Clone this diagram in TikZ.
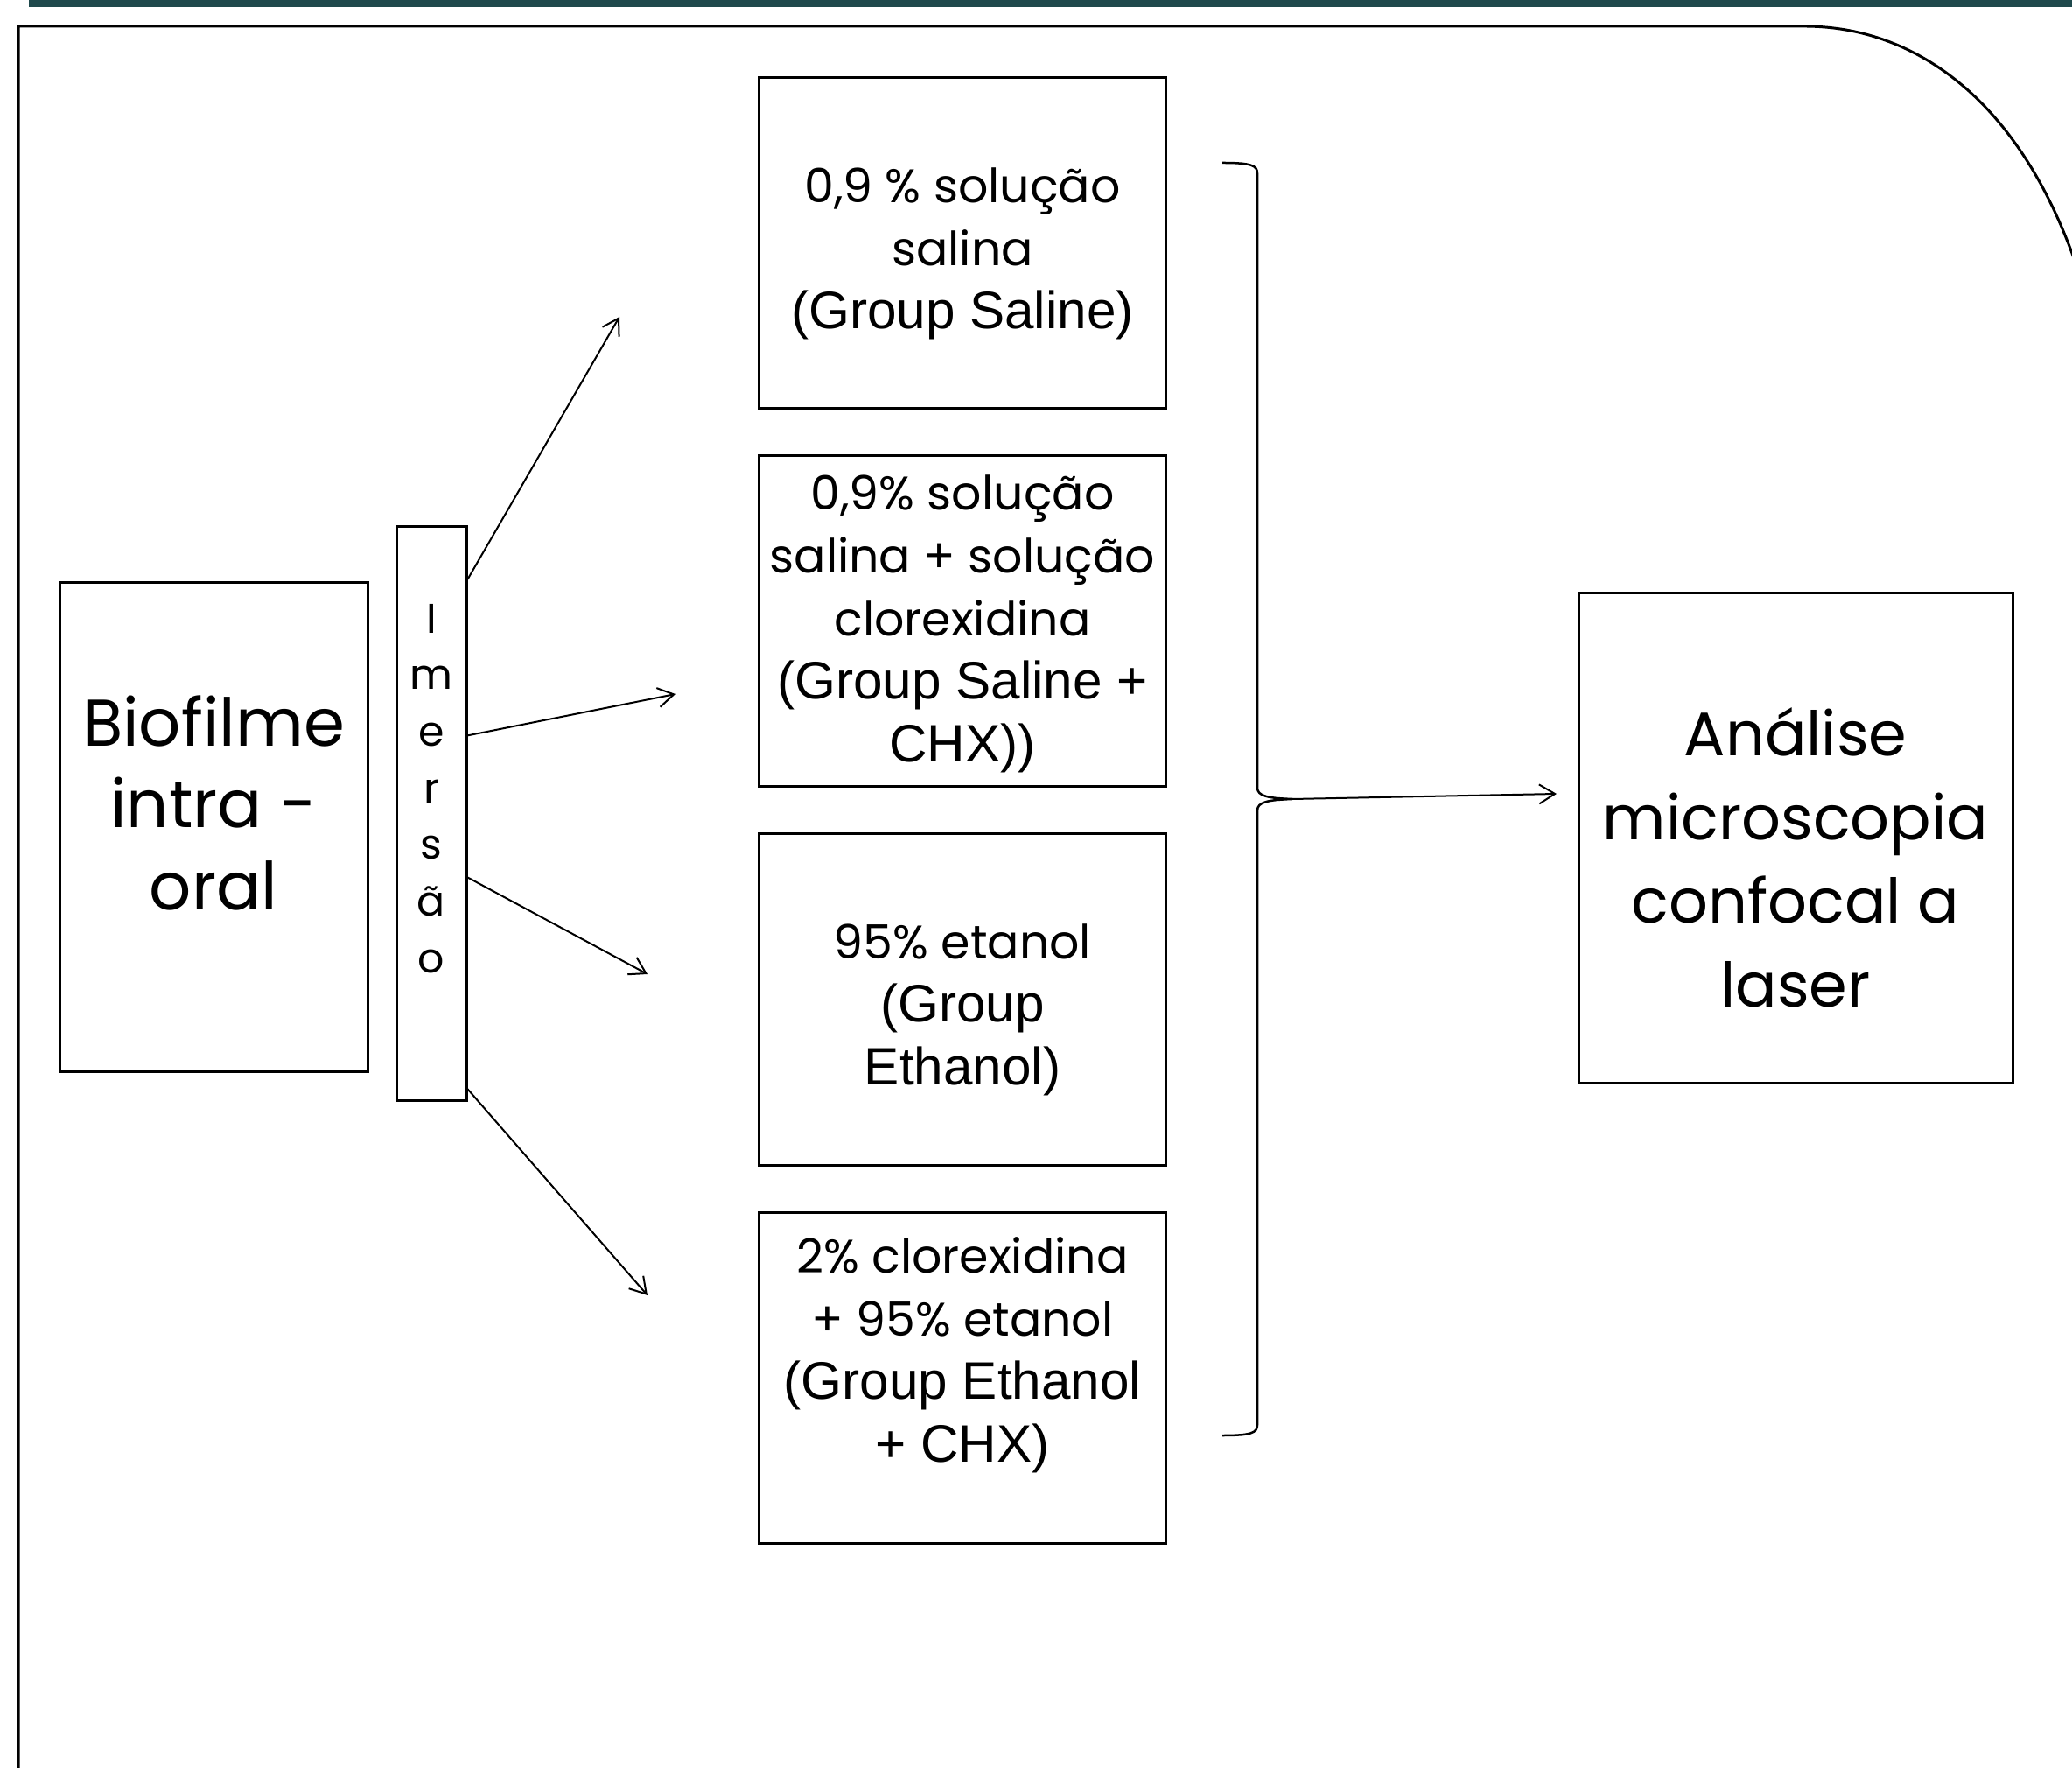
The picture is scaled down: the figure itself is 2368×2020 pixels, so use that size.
\documentclass[tikz,border=0pt]{standalone}
\usepackage{fontspec}
\usetikzlibrary{arrows.meta,calc}
\newfontfamily\cmc{Poppins}
\newfontfamily\ari[Scale=1.12]{Liberation Sans}
\definecolor{barteal}{RGB}{31,73,76}

\begin{document}
\begin{tikzpicture}[x=0.1mm,y=-0.1mm,
  box/.style={draw,line width=0.3mm,inner sep=0pt},
  grp/.style={box,minimum width=46.5mm,minimum height=37.8mm},
  txt/.style={align=center,inner sep=0pt,font=\cmc\fontsize{15.3}{20.5}\selectfont},
  arr/.style={line width=0.2mm,-{Straight Barb[length=1.8mm,width=2.2mm]}}]
  \useasboundingbox (0,0) rectangle (2368,2020);
  \begin{scope}
    \clip (0,0) rectangle (2368,2020);
    \fill[barteal] (33,0) rectangle (2368,8);
    \draw[line width=0.3mm] (21,2040) -- (21,30) -- (2062,30) .. controls (2200,30) and (2330,130) .. (2390,360);
  \end{scope}

  \node[box,minimum width=35.2mm,minimum height=55.9mm] (bio) at (244,945) {};
  \node[txt,font=\cmc\fontsize{21.5}{26.6}\selectfont] (biotxt) at (244,917) {Biofilme\\intra -\\oral};
  \node[box,minimum width=8mm,minimum height=65.6mm] (imer) at (493,930) {};
  \node[txt,font=\cmc\fontsize{13.5}{18.4}\selectfont] (imertxt) at (493,901) {I\\m\\e\\r\\s\\ã\\o};

  \node[grp] (g1) at (1100,278) {};
  \node[grp] (g2) at (1100,710) {};
  \node[grp] (g3) at (1100,1142) {};
  \node[grp] (g4) at (1100,1574) {};
  \node[txt] (g1txt) at (1100,290) {0,9 \% solução\\salina\\\ari (Group Saline)};
  \node[txt] (g2txt) at (1100,713) {0,9\% solução\\salina + solução\\clorexidina\\\ari (Group Saline +\\\ari CHX))};
  \node[txt] (g3txt) at (1100,1154) {95\% etanol\\\ari (Group\\\ari Ethanol)};
  \node[txt] (g4txt) at (1100,1548) {2\% clorexidina\\+ 95\% etanol\\\ari (Group Ethanol\\\ari + CHX)};

  \node[box,minimum width=49.6mm,minimum height=56mm] (ana) at (2052,958) {};
  \node[txt,font=\cmc\fontsize{20}{27.2}\selectfont] (anatxt) at (2052,980) {Análise\\microscopia\\confocal a\\laser};

  % arrows out of the immersion bar
  \coordinate (e1) at (708,362);
  \coordinate (e2) at (772,793);
  \coordinate (e3) at (740,1113);
  \coordinate (e4) at (740,1480);
  \draw[arr] ($(imer.north east)!0.093!(imer.south east)$) -- (e1);
  \draw[arr] ($(imer.north east)!0.364!(imer.south east)$) -- (e2);
  \draw[arr] ($(imer.north east)!0.610!(imer.south east)$) -- (e3);
  \draw[arr] ($(imer.north east)!0.977!(imer.south east)$) -- (e4);

  % brace joining the four groups
  \coordinate (tip) at (1477,913);
  \coordinate (anain) at (1779,907);
  \draw[line width=0.25mm] (1397,186) .. controls (1430,186) and (1437,189) .. (1437,198) -- (1437,900)
    .. controls (1437,910) and (1450,912) .. (tip) .. controls (1450,914) and (1437,916) .. (1437,926)
    -- (1437,1628) .. controls (1437,1637) and (1430,1640) .. (1397,1640);
  \draw[arr] (tip) -- (anain);
\end{tikzpicture}
\end{document}
